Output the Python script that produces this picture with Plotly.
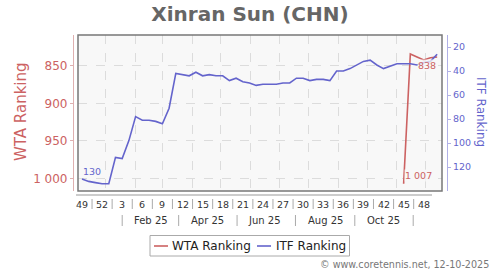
import plotly.graph_objects as go
import pandas as pd

# ---------------- data ----------------
dates = pd.date_range("2024-12-07", periods=54, freq="7D")
itf_rank = [130, 132, 133, 134, 134, 112, 113, 98, 78, 81, 81, 82, 84, 71, 42,
            43, 44, 41, 44, 43, 44, 44, 48, 46, 49, 50, 52, 51, 51, 51, 50, 50,
            46, 46, 48, 47, 47, 48, 40, 40, 38, 35, 32, 31, 35, 38, 36, 34, 34,
            34, 35, 33, 32, 26]
wta_rank = [None] * 48 + [1007, 834, 838, 842, 839, 838]

week_labels = ["49", "52", "3", "6", "9", "12", "15", "18", "21", "24", "27",
               "30", "33", "36", "39", "42", "45", "48"]
month_labels = ["Feb 25", "Apr 25", "Jun 25", "Aug 25", "Oct 25"]
month_label_dates = ["2025-02-17", "2025-04-17", "2025-06-16", "2025-08-18", "2025-10-18"]
month_sep_dates = ["2025-01-18", "2025-03-18", "2025-05-18", "2025-07-18",
                   "2025-09-18", "2025-11-18"]
wta_ticks = [850, 900, 950, 1000]
itf_ticks = [20, 40, 60, 80, 100, 120]

WTA_C = "#cc6262"
ITF_C = "#6464cc"
WTA_AX = "#dfb0b0"
ITF_AX = "#b0b0e6"


def fmt(v):
    return f"{v:,}".replace(",", " ")


# ---------------- geometry helpers (pixels -> paper) ----------------
W, H = 500, 270
ML, MR, MT, MB = 73, 53, 35, 79
PW = W - ML - MR
PH = H - MT - MB


def px(x):
    return (x - ML) / PW


def py(y):
    return (H - MB - y) / PH


fig = go.Figure()
fig.add_trace(go.Scatter(x=dates, y=itf_rank, yaxis="y2", mode="lines",
                         line=dict(color=ITF_C, width=1.6), name="ITF Ranking"))
fig.add_trace(go.Scatter(x=dates, y=wta_rank, mode="lines",
                         line=dict(color=WTA_C, width=1.6), name="WTA Ranking",
                         connectgaps=False))

shapes = []
annotations = []

# plot border
shapes.append(dict(type="rect", xref="x domain", yref="y domain", x0=0, x1=1, y0=0, y1=1,
                   line=dict(color="#777777", width=1.5)))

# bottom axis line
shapes.append(dict(type="line", xref="paper", yref="paper", x0=px(76), x1=px(432),
                   y0=py(195), y1=py(195), line=dict(color="#999999", width=1)))

# week labels and separators
first = dates[0]
for k, lab in enumerate(week_labels):
    annotations.append(dict(x=dates[3 * k], y=py(204), xref="x", yref="paper", text=lab,
                            showarrow=False, xanchor="center", yanchor="middle",
                            font=dict(size=9.5, color="#333333")))
for k in range(len(week_labels) - 1):
    xd = first + pd.Timedelta(days=7 * (1.5 + 3 * k))
    shapes.append(dict(type="line", xref="x", yref="paper", x0=xd, x1=xd,
                       y0=py(199), y1=py(209), line=dict(color="#aaaaaa", width=1)))

# month labels and separators
for lab, d in zip(month_labels, month_label_dates):
    annotations.append(dict(x=d, y=py(220.5), xref="x", yref="paper", text=lab,
                            showarrow=False, xanchor="center", yanchor="middle",
                            font=dict(size=10, color="#333333")))
for d in month_sep_dates:
    shapes.append(dict(type="line", xref="x", yref="paper", x0=d, x1=d,
                       y0=py(215), y1=py(226), line=dict(color="#aaaaaa", width=1)))

# data labels
LBL_BG = "rgba(248,248,248,0.75)"
annotations.append(dict(x=dates[0], y=itf_rank[0], xref="x", yref="y2", text=str(itf_rank[0]),
                        showarrow=False, xanchor="left", yanchor="middle", yshift=8,
                        borderpad=0, font=dict(size=9.5, color=ITF_C)))
first_wta = next(i for i, v in enumerate(wta_rank) if v is not None)
annotations.append(dict(x=dates[first_wta], y=wta_rank[first_wta], xref="x", yref="y",
                        text=fmt(wta_rank[first_wta]), showarrow=False, xanchor="left",
                        yanchor="middle", yshift=8, borderpad=0, bgcolor=LBL_BG,
                        font=dict(size=9.5, color=WTA_C)))
annotations.append(dict(x=dates[-1], y=wta_rank[-1], xref="x", yref="y",
                        text=fmt(wta_rank[-1]), showarrow=False, xanchor="right",
                        yanchor="middle", yshift=-8.5, borderpad=0, bgcolor=LBL_BG,
                        font=dict(size=9.5, color=WTA_C)))

# axis titles
annotations.append(dict(x=px(21), y=py(112), xref="paper", yref="paper", text="WTA Ranking",
                        textangle=-90, showarrow=False, xanchor="center", yanchor="middle",
                        font=dict(size=15, color=WTA_C)))
annotations.append(dict(x=px(481), y=py(112), xref="paper", yref="paper", text="ITF Ranking",
                        textangle=90, showarrow=False, xanchor="center", yanchor="middle",
                        font=dict(size=12, color=ITF_C)))

# legend (manual)
shapes.append(dict(type="rect", xref="paper", yref="paper", x0=px(150), x1=px(349.5),
                   y0=py(256), y1=py(235.5), line=dict(color="#aaaaaa", width=1),
                   fillcolor="white"))
shapes.append(dict(type="line", xref="paper", yref="paper", x0=px(154), x1=px(168),
                   y0=py(246), y1=py(246), line=dict(color=WTA_C, width=1.6)))
shapes.append(dict(type="line", xref="paper", yref="paper", x0=px(257), x1=px(271),
                   y0=py(246), y1=py(246), line=dict(color=ITF_C, width=1.6)))
annotations.append(dict(x=px(171), y=py(246), xref="paper", yref="paper", text="WTA Ranking",
                        showarrow=False, xanchor="left", yanchor="middle", borderpad=0,
                        font=dict(size=12, color="#222222")))
annotations.append(dict(x=px(275), y=py(246), xref="paper", yref="paper", text="ITF Ranking",
                        showarrow=False, xanchor="left", yanchor="middle", borderpad=0,
                        font=dict(size=12, color="#222222")))

# copyright
annotations.append(dict(x=px(490), y=py(264), xref="paper", yref="paper",
                        text="© www.coretennis.net, 12-10-2025", showarrow=False,
                        xanchor="right", yanchor="middle", borderpad=0,
                        font=dict(size=9.6, color="#777777")))

fig.update_layout(
    width=W, height=H,
    margin=dict(l=ML, r=MR, t=MT, b=MB, pad=0),
    paper_bgcolor="white", plot_bgcolor="#f8f8f8",
    showlegend=False,
    font=dict(family="DejaVu Sans"),
    title=dict(text="Xinran Sun (CHN)", x=0.5, xref="container", xanchor="center",
               y=1 - 13.5 / H, yref="container", yanchor="middle",
               font=dict(size=20, color="#666666", family="DejaVu Sans", weight="bold")),
    xaxis=dict(type="date", domain=[px(78), px(442)],
               range=["2024-12-02 20:00", "2025-12-18 02:00"],
               showgrid=True, gridcolor="#dcdcdc", griddash="dash", gridwidth=1,
               dtick="M1", tick0="2025-01-01", showticklabels=False, ticks="",
               zeroline=False, showline=False),
    yaxis=dict(range=[1016.7, 808.7], anchor="free", position=0, showline=True,
               linecolor=WTA_AX, linewidth=1.2, ticks="outside", ticklen=3, tickcolor=WTA_AX,
               tickvals=wta_ticks, ticktext=[fmt(v) for v in wta_ticks],
               tickfont=dict(size=12, color=WTA_C), showgrid=True, gridcolor="#dcdcdc",
               griddash="dash", zeroline=False),
    yaxis2=dict(range=[140, 10], overlaying="y", side="right", anchor="free", position=1,
                showline=True, linecolor=ITF_AX, linewidth=1.2, ticks="outside", ticklen=3,
                tickcolor=ITF_AX, tickvals=itf_ticks, tickfont=dict(size=9.5, color=ITF_C),
                showgrid=False, zeroline=False),
    shapes=shapes,
    annotations=annotations,
)

fig.write_html("out.html")
